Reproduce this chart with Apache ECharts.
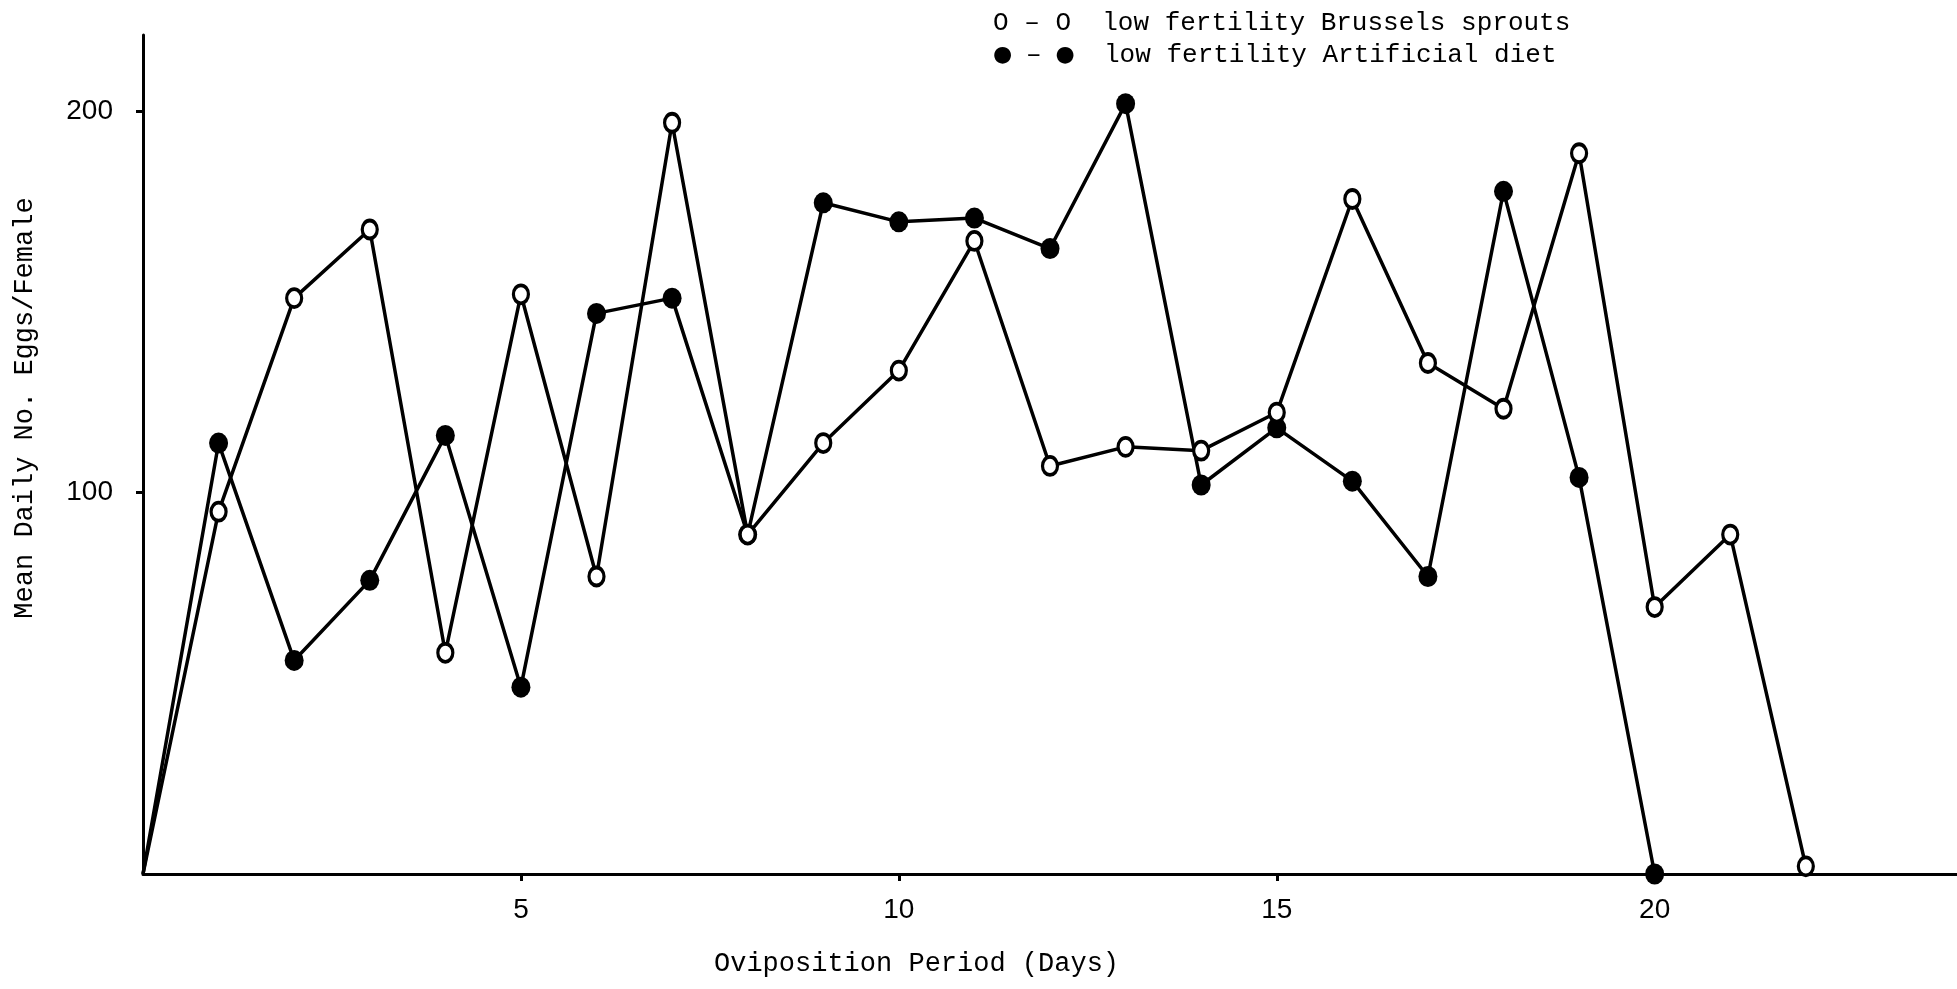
<!DOCTYPE html>
<html>
<head>
<meta charset="utf-8">
<script src="https://cdn.jsdelivr.net/npm/echarts@6/dist/echarts.min.js"></script>
<style>
html,body{margin:0;padding:0;background:#fff;}
#chart{width:1957px;height:989px;}
</style>
</head>
<body>
<div id="chart"></div>
<script>
// Days of oviposition period
const days = [0,1,2,3,4,5,6,7,8,9,10,11,12,13,14,15,16,17,18,19,20,21,22];
// Mean daily no. eggs / female, low fertility Brussels sprouts (open circles)
const brussels = [0,95,151,169,58,152,78,197,89,113,132,166,107,112,111,121,177,134,122,189,70,89,2];
// Mean daily no. eggs / female, low fertility Artificial diet (filled circles)
const artificial = [0,113,56,77,115,49,147,151,89,176,171,172,164,202,102,117,103,78,179,104,0];
// Tick labels
const yTicks = [100,200];
const xTicks = [5,10,15,20];
const legendLabels = ['low fertility Brussels sprouts','low fertility Artificial diet'];
const xTitle = 'Oviposition Period (Days)';
const yTitle = 'Mean Daily No. Eggs/Female';

function toData(vals){
  return vals.map((v,i)=> i===0 ? {value:[days[i],v], symbol:'none'} : [days[i],v]);
}

const chart = echarts.init(document.getElementById('chart'));
const mono = '"Liberation Mono", "DejaVu Sans Mono", monospace';
const tickFont = '"Liberation Sans Narrow","Liberation Sans",sans-serif';
chart.setOption({
  animation:false,
  backgroundColor:'#ffffff',
  grid:{left:143, right:0, top:35, bottom:115},
  xAxis:{
    type:'value', min:0, max:24, interval:5,
    axisLine:{lineStyle:{color:'#000', width:3}},
    axisTick:{show:true, length:7, customValues:xTicks, lineStyle:{color:'#000', width:3}},
    splitLine:{show:false},
    axisLabel:{margin:22, color:'#000', fontSize:28, fontFamily:tickFont, customValues:xTicks}
  },
  yAxis:{
    type:'value', min:0, max:220, interval:100,
    axisLine:{show:true, lineStyle:{color:'#000', width:3}},
    axisTick:{show:true, length:7, customValues:yTicks, lineStyle:{color:'#000', width:3}},
    splitLine:{show:false},
    axisLabel:{margin:30, color:'#000', fontSize:28, fontFamily:tickFont, customValues:yTicks}
  },
  series:[
    {
      name:legendLabels[1], type:'line', data:toData(artificial), z:2,
      symbol:'circle', symbolSize:[19,21], showAllSymbol:true,
      lineStyle:{color:'#000', width:3.5},
      itemStyle:{color:'#000', borderColor:'#000', borderWidth:0}
    },
    {
      name:legendLabels[0], type:'line', data:toData(brussels), z:3,
      symbol:'circle', symbolSize:[15,18], showAllSymbol:true,
      lineStyle:{color:'#000', width:3.5},
      itemStyle:{color:'#fff', borderColor:'#000', borderWidth:3.5}
    }
  ],
  graphic:[
    {type:'text', left:993, top:10, style:{text:'O – O  '+legendLabels[0], font:'26px '+mono, fill:'#000'}},
    {type:'text', left:993, top:42, style:{
      text:'{d|●} – {d|●}  '+legendLabels[1], font:'26px '+mono, fill:'#000',
      rich:{d:{fontSize:22, width:15.6, align:'center', fontFamily:'"DejaVu Sans", sans-serif', fill:'#000'}}
    }},
    {type:'text', left:714, top:950, style:{text:xTitle, font:'27px '+mono, fill:'#000'}},
    {type:'text', x:25, y:408, rotation:Math.PI/2, style:{text:yTitle, font:'27px '+mono, fill:'#000', align:'center', verticalAlign:'middle'}}
  ]
});
</script>
</body>
</html>
